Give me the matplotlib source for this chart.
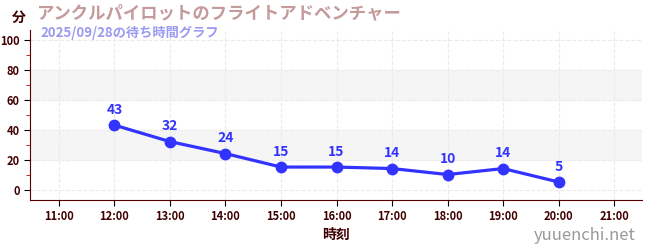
import matplotlib.pyplot as plt

plt.rcParams['font.family'] = ['Noto Sans CJK JP', 'DejaVu Sans']

hours = [12, 13, 14, 15, 16, 17, 18, 19, 20]
waits = [43, 32, 24, 15, 15, 14, 10, 14, 5]
xticks = list(range(11, 22))
xlabels = ["%d:00" % h for h in xticks]

title = "アンクルパイロットのフライトアドベンチャー"
subtitle = "2025/09/28の待ち時間グラフ"

fig = plt.figure(figsize=(6.5, 2.5), dpi=100)
ax = fig.add_axes([30 / 650, 50 / 250, 612 / 650, 170 / 250])

ax.set_xlim(10.48, 21.5)
ax.set_ylim(-7, 106.5)

# shaded bands
for lo, hi in [(20, 40), (60, 80)]:
    ax.axhspan(lo, hi, color="#f5f5f5", zorder=0)

ax.plot(hours, waits, color="#3333ff", lw=2.3, marker="o", ms=7.5, zorder=3)
for h, w in zip(hours, waits):
    ax.annotate(str(w), (h, w), xytext=(0, 6), textcoords="offset points",
                ha="center", va="bottom", color="#3333ff", fontsize=10,
                fontweight="bold")

ax.set_xticks(xticks)
ax.set_xticklabels(xlabels)
ax.set_yticks([0, 20, 40, 60, 80, 100])
ax.set_yticks([10, 30, 50, 70, 90], minor=True)
ax.grid(True, which="major", color="#ebebeb", linestyle="--", lw=0.8)
ax.set_axisbelow(True)

ax.tick_params(axis="both", which="major", colors="#000000", labelcolor="#400000",
               labelsize=8, length=4)
ax.tick_params(axis="y", which="minor", colors="#cc0000", length=3)
for lab in ax.get_xticklabels() + ax.get_yticklabels():
    lab.set_fontweight("bold")

for s in ["top", "right"]:
    ax.spines[s].set_visible(False)
for s in ["left", "bottom"]:
    ax.spines[s].set_color("#550000")

ax.set_xlabel("時刻", color="#400000", fontsize=10, fontweight="bold", labelpad=3)

fig.text(12 / 650, 1 - 18 / 250, "分", color="#400000",
         fontsize=10, fontweight="bold", ha="left", va="center")
fig.text(36 / 650, 1 - 13 / 250, title, color="#c49a9a", fontsize=12.5,
         fontweight="bold", ha="left", va="center")
fig.text(40 / 650, 1 - 33 / 250, subtitle, color="#9a9af0", fontsize=9.5,
         fontweight="bold", ha="left", va="center")
fig.text(636 / 650, 1 - 235 / 250, "yuuenchi.net", color="#999999", fontsize=12,
         ha="right", va="center")

fig.savefig("out.png", dpi=100)
